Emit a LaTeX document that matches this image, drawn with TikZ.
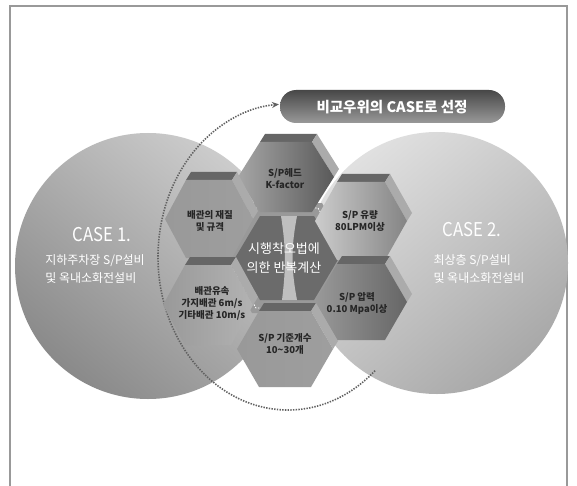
\documentclass[tikz,border=0pt]{standalone}
\usepackage{fontspec}
\setmainfont{Noto Sans CJK KR}
\usetikzlibrary{arrows.meta}
\tikzset{
  hextext/.style={text=black!85, font=\bfseries\fontsize{9.5}{12}\selectfont, align=center, inner sep=0pt},
  casetitle/.style={text=white, font=\fontsize{19}{20}\selectfont, inner sep=0pt},
  casebody/.style={text=white, font=\fontsize{12}{18}\selectfont, align=left, inner sep=0pt},
  centertext/.style={text=white, font=\fontsize{13}{19}\selectfont, align=center, inner sep=0pt},
  bannertext/.style={text=white, font=\bfseries\fontsize{14.5}{16}\selectfont, inner sep=0pt},
  framestyle/.style={black!40, line width=1.2pt},
  dottedarc/.style={black!62, line width=1.6pt, dash pattern=on 1.4pt off 1.3pt, -{Stealth[length=7pt,width=6pt]}}
}
\newcommand{\hexprism}[8]{%
  \begin{scope}[shift={(#1,#2)}]
    \fill[black!60] (-#4,-#5) -- (-#4+5,-#5-8) -- (#4+5,-#5-8) -- (#4,-#5) -- cycle;
    \fill[black!33] (#4,-#5) -- (#4+5,-#5-8) -- (#3+5,-8) -- (#3,0) -- cycle;
    \shade[left color=#6, middle color=#7, right color=#8] (-#3,0) -- (-#4,-#5) -- (#4,-#5) -- (#3,0) -- (#4,#5) -- (-#4,#5) -- cycle;
  \end{scope}}
\begin{document}
\begin{tikzpicture}[x=1pt,y=-1pt]
\useasboundingbox (0,0) rectangle (577,486);
\fill[white] (0,0) rectangle (577,486);
\draw[framestyle] (10,486) -- (10,6) -- (567,6) -- (567,486);
% circles
\shade[top color=black!20, bottom color=black!46, shading angle=-40] (148,266) circle[radius=133];
\shade[top color=black!12, bottom color=black!34, shading angle=40] (437,263) circle[radius=131];
% dotted arc
\coordinate (arcc) at (288,257);
\draw[dottedarc] (arcc) ++(48:130 and 153) arc[start angle=48, end angle=266, x radius=130, y radius=153];
% banner
\shade[top color=black!72, bottom color=black!40, rounded corners=16pt] (280,90) rectangle (505,123);
\node[bannertext] (banner) at (392,107) {비교우위의 CASE로 선정};
% center hexagon
\begin{scope}[shift={(287,258)}]
 \fill[black!40] (-66,0) -- (-35,-55) -- (35,-55) -- (66,0) -- (35,55) -- (-35,55) -- cycle;
 \draw[white, dash pattern=on 1.5pt off 1.5pt, line width=0.9pt] (-60,0) -- (-31,-50) -- (31,-50) -- (60,0) -- (31,50) -- (-31,50) -- cycle;
 \fill[black!58] (-52,0) -- (-27,-42) -- (27,-42) -- (52,0) -- (27,42) -- (-27,42) -- cycle;
 \fill[black!25] (-6,-42) .. controls (-1,-10) and (-1,10) .. (-5,42) -- (10,42) .. controls (4,10) and (4,-10) .. (10,-42) -- cycle;
\end{scope}
% six hexagons
\hexprism{286}{177}{48}{26}{35}{black!35}{black!45}{black!65}
\hexprism{209}{219}{44}{23}{39}{black!40}{black!22}{black!38}
\hexprism{361}{221}{46}{24}{39}{black!20}{black!28}{black!48}
\hexprism{208}{305}{45}{23}{40}{black!40}{black!25}{black!30}
\hexprism{361}{302}{46}{24}{38}{black!40}{black!50}{black!60}
\hexprism{285}{349}{48}{26}{38}{black!40}{black!25}{black!38}
% texts
\node[centertext] (calc) at (284,258) {시행착오법에\\의한 반복계산};
\node[hextext] (head) at (285,179) {S/P헤드\\K-factor};
\node[hextext] (pipe) at (210,221) {배관의 재질\\및 규격};
\node[hextext] (flow) at (360,221) {S/P 유량\\80LPM이상};
\node[hextext] (vel) at (212,303) {배관유속\\가지배관 6m/s\\기타배관 10m/s};
\node[hextext] (pres) at (357,303) {S/P 압력\\0.10 Mpa이상};
\node[hextext] (cnt) at (285,344) {S/P 기준개수\\10\textasciitilde 30개};
\node[casetitle] (c1t) at (102,235) {\scalebox{0.88}[1]{CASE 1.}};
\node[casebody] (c1b) at (95,269) {지하주차장 S/P설비\\및 옥내소화전설비};
\node[casetitle] (c2t) at (472,230) {\scalebox{0.88}[1]{CASE 2.}};
\node[casebody] (c2b) at (479,269) {최상층 S/P설비\\및 옥내소화전설비};
\end{tikzpicture}
\end{document}
